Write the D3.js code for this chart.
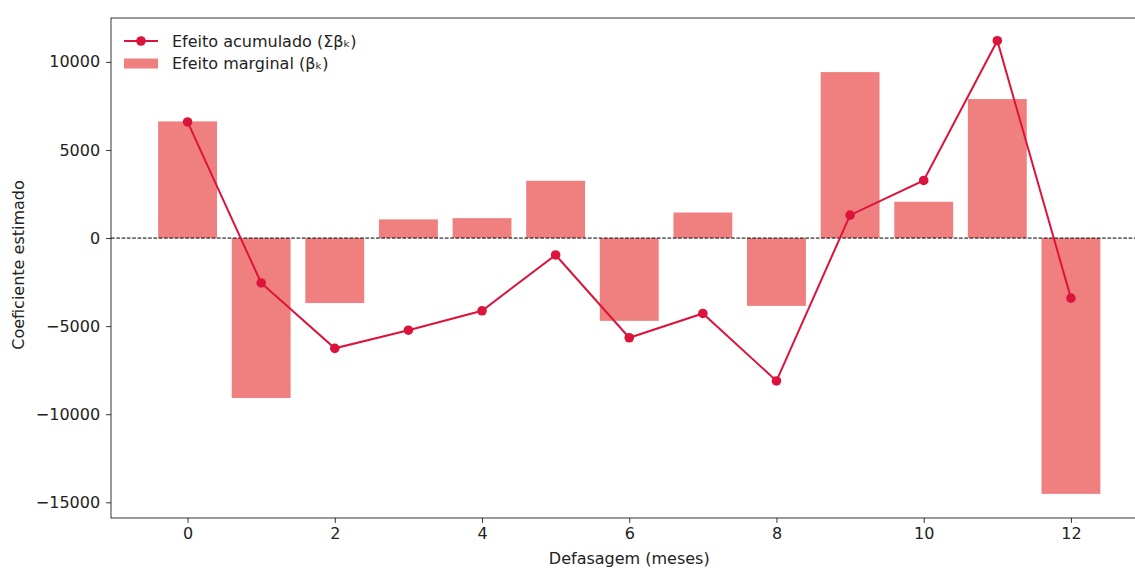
<!DOCTYPE html>
<html>
<head>
<meta charset="utf-8">
<script src="https://cdn.jsdelivr.net/npm/d3@7"></script>
<style>
  html, body { margin: 0; padding: 0; background: #fff; overflow: hidden; }
  svg { display: block; font-family: "DejaVu Sans", sans-serif; }
</style>
</head>
<body>
<svg id="chart" width="1135" height="568"></svg>
<script>
// Lags (months)
const lags = [0, 1, 2, 3, 4, 5, 6, 7, 8, 9, 10, 11, 12];
// Marginal effect per lag (βk)
const marginal = [6620, -9080, -3690, 1060, 1130, 3250, -4700, 1450, -3850, 9420, 2060, 7890, -14520];
// Cumulative effect (Σβk)
const cumulative = [6590, -2550, -6260, -5230, -4130, -960, -5660, -4280, -8110, 1300, 3270, 11200, -3410];

const xTicks = [0, 2, 4, 6, 8, 10, 12];
const yTicks = [-15000, -10000, -5000, 0, 5000, 10000];

const labelCum = "Efeito acumulado (Σβₖ)";
const labelMarg = "Efeito marginal (βₖ)";
const xTitle = "Defasagem (meses)";
const yTitle = "Coeficiente estimado";

const barColor = "#f08080";
const lineColor = "#dc143c";
const fontSize = 16;

const svg = d3.select("#chart");
const plot = { left: 111, top: 18, right: 1147.5, bottom: 518 };

const x = d3.scaleLinear().domain([-1.04, 13.04]).range([plot.left, plot.right]);
const y = d3.scaleLinear().domain([-15890, 12490]).range([plot.bottom, plot.top]);
const barW = x(0.8) - x(0);

// Bars: marginal effects
svg.append("g").selectAll("rect")
  .data(lags)
  .join("rect")
  .attr("x", d => x(d) - barW / 2)
  .attr("width", barW)
  .attr("y", (d, i) => y(Math.max(0, marginal[i])))
  .attr("height", (d, i) => Math.abs(y(marginal[i]) - y(0)))
  .attr("fill", barColor);

// Zero reference line
svg.append("line")
  .attr("x1", plot.left).attr("x2", plot.right)
  .attr("y1", y(0)).attr("y2", y(0))
  .attr("stroke", "#000").attr("stroke-width", 1)
  .attr("stroke-dasharray", "3.7,1.6");

// Cumulative line with markers
const line = d3.line().x((d, i) => x(lags[i])).y(d => y(d));
svg.append("path")
  .datum(cumulative)
  .attr("d", line)
  .attr("fill", "none")
  .attr("stroke", lineColor)
  .attr("stroke-width", 2);
svg.append("g").selectAll("circle")
  .data(cumulative)
  .join("circle")
  .attr("cx", (d, i) => x(lags[i]))
  .attr("cy", d => y(d))
  .attr("r", 4.8)
  .attr("fill", lineColor);

// Axes
const xAxis = d3.axisBottom(x).tickValues(xTicks).tickSize(4.9).tickPadding(4.5).tickFormat(d3.format("d"));
const yAxis = d3.axisLeft(y).tickValues(yTicks).tickSize(4.9).tickPadding(6)
  .tickFormat(d => d < 0 ? "\u2212" + Math.abs(d) : String(d));

const gx = svg.append("g").attr("transform", `translate(0,${plot.bottom})`).call(xAxis);
const gy = svg.append("g").attr("transform", `translate(${plot.left},0)`).call(yAxis);
[gx, gy].forEach(g => {
  g.select(".domain").remove();
  g.selectAll(".tick line").attr("stroke", "#000").attr("stroke-width", 0.8);
  g.selectAll(".tick text").attr("fill", "#222").style("font-size", fontSize + "px")
    .style("font-family", "'DejaVu Sans', sans-serif");
});

// Frame
svg.append("rect")
  .attr("x", plot.left).attr("y", plot.top)
  .attr("width", plot.right - plot.left).attr("height", plot.bottom - plot.top)
  .attr("fill", "none").attr("stroke", "#000").attr("stroke-width", 0.8);

// Axis titles
svg.append("text")
  .attr("x", (plot.left + plot.right) / 2).attr("y", 564)
  .attr("text-anchor", "middle").attr("fill", "#222")
  .style("font-size", fontSize + "px").text(xTitle);
svg.append("text")
  .attr("transform", `translate(24,${(plot.top + plot.bottom) / 2 - 3}) rotate(-90)`)
  .attr("text-anchor", "middle").attr("fill", "#222")
  .style("font-size", fontSize + "px").text(yTitle);

// Legend
const lg = svg.append("g");
lg.append("line").attr("x1", 124).attr("x2", 158).attr("y1", 41).attr("y2", 41)
  .attr("stroke", lineColor).attr("stroke-width", 2);
lg.append("circle").attr("cx", 141).attr("cy", 41).attr("r", 4.8).attr("fill", lineColor);
lg.append("text").attr("x", 172).attr("y", 46.8).attr("fill", "#222")
  .style("font-size", fontSize + "px").text(labelCum);
lg.append("rect").attr("x", 124).attr("y", 58.5).attr("width", 34).attr("height", 10)
  .attr("fill", barColor);
lg.append("text").attr("x", 172).attr("y", 69.3).attr("fill", "#222")
  .style("font-size", fontSize + "px").text(labelMarg);
</script>
</body>
</html>
